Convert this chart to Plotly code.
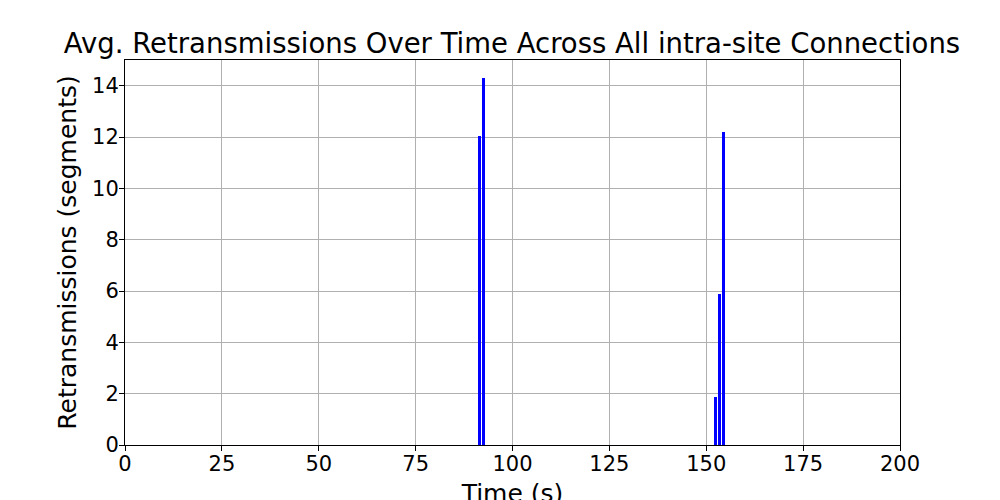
import plotly.graph_objects as go

# Avg. retransmissions per second (only non-zero seconds shown)
time_s = [91.5, 92.5, 152.4, 153.4, 154.4]
retrans = [12.02, 14.31, 1.88, 5.9, 12.18]

fig = go.Figure()
fig.add_trace(go.Bar(x=time_s, y=retrans, width=0.85, marker_color='blue',
                     marker_line_width=0))

axis_style = dict(showline=True, linecolor='black', linewidth=1, mirror=True,
                  ticks='outside', ticklen=5, tickcolor='black',
                  showgrid=True, gridcolor='#b0b0b0', gridwidth=1,
                  zeroline=False, automargin=False,
                  tickfont=dict(size=21, color='black'))

fig.update_layout(
    width=1000, height=500,
    margin=dict(l=117, r=108, t=52, b=63),
    plot_bgcolor='white', paper_bgcolor='white',
    font=dict(family='DejaVu Sans', color='black'),
    title=dict(text='Avg. Retransmissions Over Time Across All intra-site Connections',
               x=0.504, xanchor='center', y=0.93, yanchor='middle',
               font=dict(size=27.5)),
    showlegend=False,
    bargap=0,
)
fig.update_xaxes(range=[0, 200], tickvals=[0, 25, 50, 75, 100, 125, 150, 175, 200],
                 ticklabelstandoff=-5,
                 title=dict(text='Time (s)', font=dict(size=25), standoff=9), **axis_style)
fig.update_yaxes(range=[0, 15], tickvals=[0, 2, 4, 6, 8, 10, 12, 14],
                 ticklabelstandoff=-4,
                 title=dict(text='Retransmissions (segments)', font=dict(size=25), standoff=8),
                 **axis_style)

fig.write_html("out.html")
